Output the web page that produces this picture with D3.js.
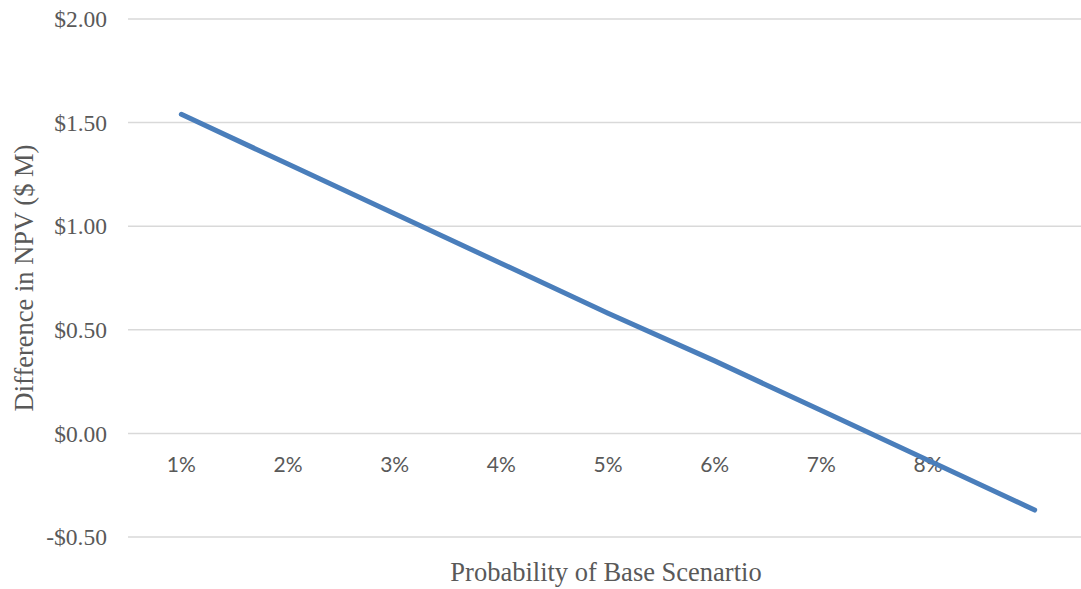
<!DOCTYPE html>
<html><head><meta charset="utf-8">
<script src="https://cdn.jsdelivr.net/npm/d3@7"></script>
<style>body{margin:0;background:#fff}svg{display:block}</style>
</head><body>
<svg id="c" width="1081" height="589"></svg>
<script>
const categories = ["1%","2%","3%","4%","5%","6%","7%","8%",""];
const values = [1.54, 1.30, 1.06, 0.82, 0.58, 0.35, 0.11, -0.13, -0.37];
const yTicks = [-0.5, 0, 0.5, 1.0, 1.5, 2.0];

const svg = d3.select("#c");
const x = d3.scaleBand().domain(d3.range(categories.length)).range([128, 1088]);
const y = d3.scaleLinear().domain([-0.5, 2.0]).range([537, 19]);

// gridlines
svg.append("g").selectAll("line").data(yTicks).join("line")
  .attr("x1", 128).attr("x2", 1088)
  .attr("y1", d => y(d)).attr("y2", d => y(d))
  .attr("stroke", "#d9d9d9").attr("stroke-width", 1.5);

// y labels
const fmt = d => (d < 0 ? "-$" : "$") + Math.abs(d).toFixed(2);
svg.append("g").selectAll("text").data(yTicks).join("text")
  .attr("x", 107).attr("y", d => y(d)).attr("dy", "0.35em")
  .attr("text-anchor", "end")
  .attr("font-family", "'Liberation Serif', 'Times New Roman', serif")
  .attr("font-size", 23.5).attr("fill", "#595959")
  .text(fmt);

// x labels at zero line
svg.append("g").selectAll("text").data(categories).join("text")
  .attr("x", (d, i) => x(i) + x.bandwidth() / 2)
  .attr("y", y(0) + 39)
  .attr("text-anchor", "middle")
  .attr("font-family", "Lato, 'Open Sans', sans-serif")
  .attr("font-size", 21).attr("fill", "#595959")
  .text(d => d);

// line
const line = d3.line().x((d, i) => x(i) + x.bandwidth() / 2).y(d => y(d));
svg.append("path").datum(values)
  .attr("d", line).attr("fill", "none")
  .attr("stroke", "#4a7ebb").attr("stroke-width", 5)
  .attr("stroke-linecap", "round").attr("stroke-linejoin", "round");

// axis titles
svg.append("text")
  .attr("transform", "translate(33,278) rotate(-90)")
  .attr("text-anchor", "middle")
  .attr("font-family", "'Liberation Serif', 'Times New Roman', serif")
  .attr("font-size", 26.5).attr("fill", "#595959")
  .text("Difference in NPV ($ M)");
svg.append("text")
  .attr("x", 606).attr("y", 581)
  .attr("text-anchor", "middle")
  .attr("font-family", "'Liberation Serif', 'Times New Roman', serif")
  .attr("font-size", 26.5).attr("fill", "#595959")
  .text("Probability of Base Scenartio");
</script>
</body></html>
